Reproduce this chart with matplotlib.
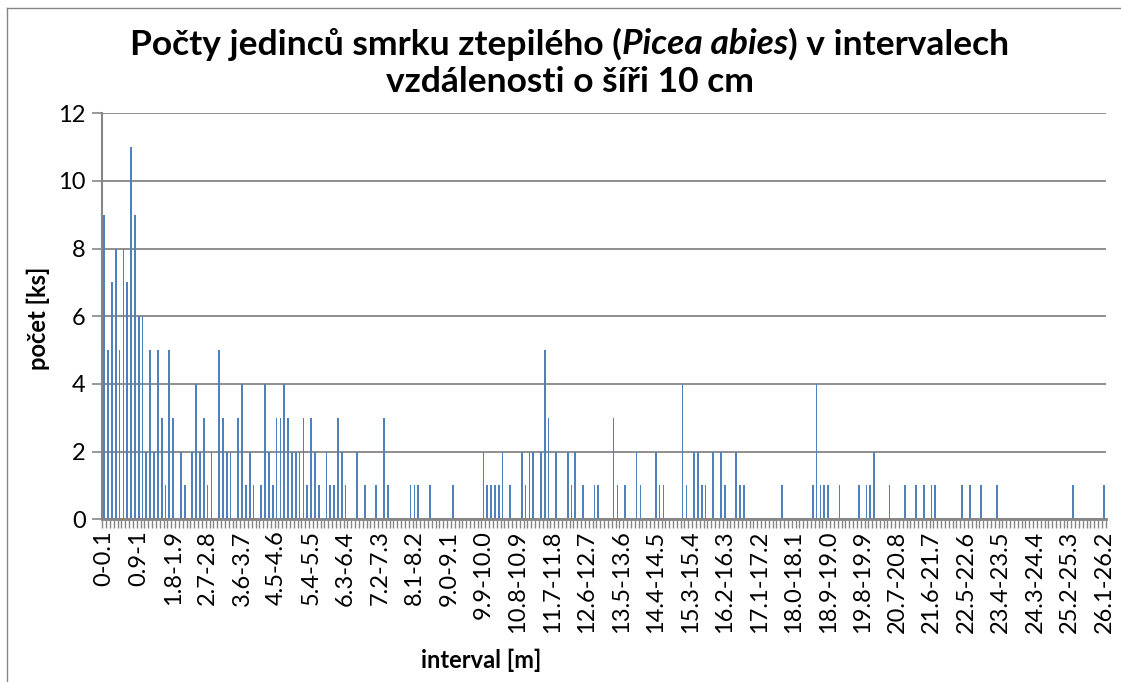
import numpy as np
import matplotlib
matplotlib.use("Agg")
import matplotlib.pyplot as plt
from matplotlib.lines import Line2D

plt.rcParams['font.family'] = ['Lato', 'DejaVu Sans']

# počet jedinců v každém 10cm intervalu (0-0.1 ... 26.1-26.2)
counts = [
    9, 5, 7, 8, 5, 8, 7, 11, 9, 6, 6, 2, 5, 2, 5, 3, 1, 5, 3, 0,
    2, 1, 0, 2, 4, 2, 3, 1, 2, 0, 5, 3, 2, 2, 0, 3, 4, 1, 2, 1,
    0, 1, 4, 2, 1, 3, 3, 4, 3, 2, 2, 2, 3, 1, 3, 2, 1, 0, 2, 1,
    1, 3, 2, 1, 0, 0, 2, 0, 1, 0, 0, 1, 0, 3, 1, 0, 0, 0, 0, 0,
    1, 1, 1, 0, 0, 1, 0, 0, 0, 0, 0, 1, 0, 0, 0, 0, 0, 0, 0, 2,
    1, 1, 1, 1, 2, 0, 1, 0, 0, 2, 1, 2, 2, 0, 2, 5, 3, 0, 2, 0,
    0, 2, 1, 2, 0, 1, 0, 0, 1, 1, 0, 0, 0, 3, 1, 0, 1, 0, 0, 2,
    1, 0, 0, 0, 2, 1, 1, 0, 0, 0, 0, 4, 1, 0, 2, 2, 1, 1, 0, 2,
    0, 2, 1, 0, 0, 2, 1, 1, 0, 0, 0, 0, 0, 0, 0, 0, 0, 1, 0, 0,
    0, 0, 0, 0, 0, 1, 4, 1, 1, 1, 0, 0, 1, 0, 0, 0, 0, 1, 0, 1,
    1, 2, 0, 0, 0, 1, 0, 0, 0, 1, 0, 0, 1, 0, 1, 0, 1, 1, 0, 0,
    0, 0, 0, 0, 1, 0, 1, 0, 0, 1, 0, 0, 0, 1, 0, 0, 0, 0, 0, 0,
    0, 0, 0, 0, 0, 0, 0, 0, 0, 0, 0, 0, 0, 1, 0, 0, 0, 0, 0, 0,
    0, 1,
]

# popisky zobrazené na ose x (každý 9. interval)
tick_labels = [
    "0-0.1", "0.9-1", "1.8-1.9", "2.7-2.8", "3.6-3.7", "4.5-4.6",
    "5.4-5.5", "6.3-6.4", "7.2-7.3", "8.1-8.2", "9.0-9.1", "9.9-10.0",
    "10.8-10.9", "11.7-11.8", "12.6-12.7", "13.5-13.6", "14.4-14.5",
    "15.3-15.4", "16.2-16.3", "17.1-17.2", "18.0-18.1", "18.9-19.0",
    "19.8-19.9", "20.7-20.8", "21.6-21.7", "22.5-22.6", "23.4-23.5",
    "24.3-24.4", "25.2-25.3", "26.1-26.2",
]
label_step = 9

W, H = 1121, 682
grid_col = '#868686'

fig = plt.figure(figsize=(W / 100, H / 100), dpi=100)
ax = fig.add_axes([102.3 / W, 1 - 519.3 / H, (1105.8 - 102.3) / W, (519.3 - 113.3) / H])

x = np.arange(len(counts))
ax.bar(x, counts, width=0.45, color='#4F81BD', zorder=3)

ax.set_xlim(-0.5, len(counts) - 0.5)
ax.set_ylim(0, 12)
ax.set_yticks(range(0, 13, 2))
ax.yaxis.grid(True, color=grid_col, linewidth=1.3, zorder=0)

for side in ['top', 'right']:
    ax.spines[side].set_visible(False)
ax.spines['left'].set_color(grid_col)
ax.spines['left'].set_linewidth(1.5)
ax.spines['bottom'].set_color(grid_col)
ax.spines['bottom'].set_linewidth(2)
ax.spines['bottom'].set_zorder(4)

ax.set_xticks(x[::label_step])
ax.set_xticklabels(tick_labels, rotation=90, fontsize=17)
ax.set_xticks(np.arange(-0.5, len(counts), 1), minor=True)
ax.tick_params(axis='x', which='major', length=0, pad=8)
ax.tick_params(axis='x', which='minor', length=6.5, width=1, color=grid_col)
ax.tick_params(axis='y', length=7, width=1.2, color=grid_col, labelsize=17, pad=5)

fig.text(481 / W, 1 - 660 / H, "interval [m]", fontsize=17, fontweight='bold',
         ha='center', va='center')
fig.text(38 / W, 1 - 318 / H, "počet [ks]", fontsize=17, fontweight='bold',
         ha='center', va='center', rotation=90)

# titulek po kouscích kvůli kurzívě
def draw_line(pieces, y_px, cx_px=570):
    texts = [fig.text(0, 1 - y_px / H, s, fontsize=25.5, fontweight='bold',
                      style=st, va='center') for s, st in pieces]
    fig.canvas.draw()
    r = fig.canvas.get_renderer()
    widths = [t.get_window_extent(r).width for t in texts]
    pos = cx_px - sum(widths) / 2
    for t, w in zip(texts, widths):
        t.set_x(pos / W)
        pos += w

draw_line([("Počty jedinců smrku ztepilého (", 'normal'),
           ("Picea abies", 'italic'),
           (") v intervalech", 'normal')], 44)
draw_line([("vzdálenosti o šíři 10 cm", 'normal')], 82)

# rámeček grafu
fig.add_artist(Line2D([7 / W, 7 / W], [0, 1 - 8 / H], color=grid_col, lw=1))
fig.add_artist(Line2D([7 / W, 1], [1 - 8 / H, 1 - 8 / H], color=grid_col, lw=1))

fig.savefig("out.png", dpi=100)
